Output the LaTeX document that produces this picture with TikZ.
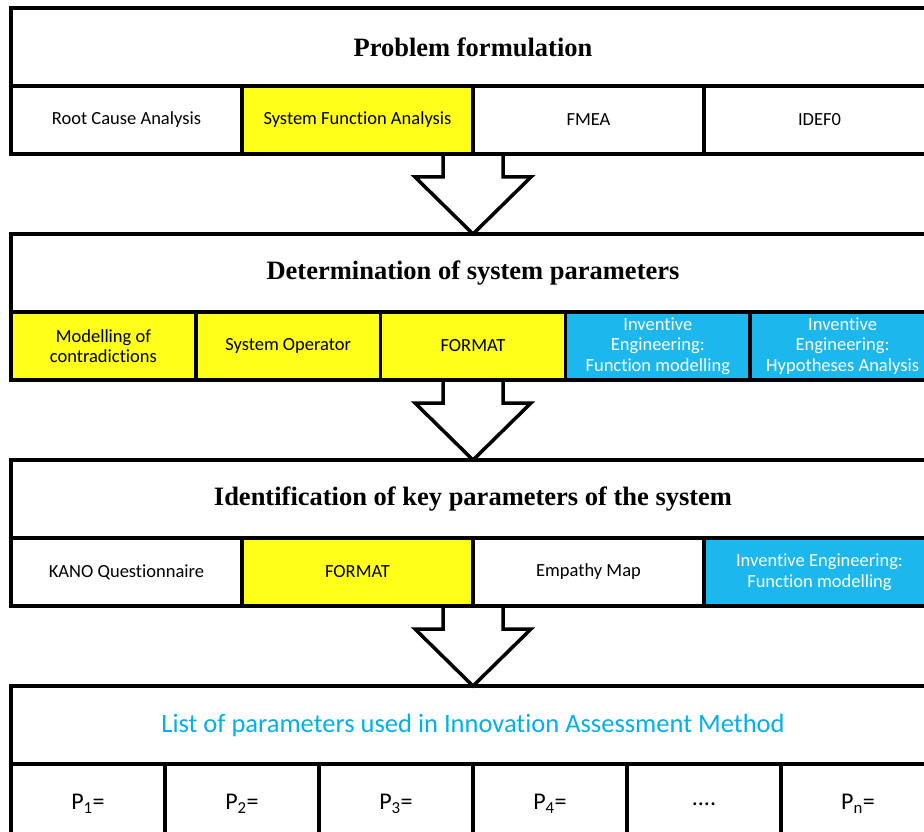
\documentclass[tikz,border=0pt]{standalone}
\usepackage{fontspec}
\setmainfont{Liberation Serif}
\newfontfamily\calibri[Ligatures=NoCommon]{Carlito}
\usetikzlibrary{chains,positioning,backgrounds}
\definecolor{markyellow}{RGB}{255,255,26}
\definecolor{inventblue}{RGB}{28,183,236}
\definecolor{listblue}{RGB}{0,176,240}
\tikzset{
  x=1pt, y=1pt,
  node distance=0mm,
  every node/.style={outer sep=0mm,inner sep=0mm}
}
\tikzset{stage/.style={
    draw,
    line width=3.5pt,
    minimum width=924pt,
    minimum height=78pt,
    font=\bfseries\fontsize{26.5}{30}\selectfont
  }}
\tikzset{tool/.style={
    draw,
    line width=3.5pt,
    minimum width=#1,
    minimum height=68pt,
    align=center,
    font=\calibri\fontsize{18.5}{20.5}\selectfont
  },
  tool/.default=231pt}
\tikzset{hl/.style={fill=markyellow}}
\tikzset{ie/.style={fill=inventblue,text=white}}
\tikzset{param/.style={tool=154pt,minimum height=80pt,font=\calibri\fontsize{24}{28}\selectfont}}
\tikzset{blockarrow/.style={draw,line width=3.5pt,fill=white,line join=miter}}
\tikzset{stack/.style={below=80pt of #1.south west,anchor=north west}}
\tikzset{firstcell/.style={below=0pt of #1.south west,anchor=north west}}

\begin{document}
\begin{tikzpicture}
  \useasboundingbox (0,0) rectangle (924,-832);

  % problem formulation
  \node (pf) [stage,anchor=north west] at (11,-8) {Problem formulation};
  \begin{scope}[start chain=r1 going right]
    \node (rca)   [tool,on chain=r1,firstcell=pf] {Root Cause Analysis};
    \node (sfa)   [tool,hl,on chain=r1]           {System Function Analysis};
    \node (fmea)  [tool,on chain=r1]              {FMEA};
    \node (idef)  [tool,on chain=r1]              {IDEF0};
  \end{scope}

  % system parameters
  \node (dsp) [stage,stack=rca] {Determination of system parameters};
  \begin{scope}[start chain=r2 going right]
    \node (moc)   [tool=184.8pt,hl,on chain=r2,firstcell=dsp] {Modelling of\\contradictions};
    \node (sysop) [tool=184.8pt,hl,on chain=r2] {System Operator};
    \node (fmt)   [tool=184.8pt,hl,on chain=r2] {FORMAT};
    \node (iefm)  [tool=184.8pt,ie,on chain=r2] {Inventive\\Engineering:\\Function modelling};
    \node (ieha)  [tool=184.8pt,ie,on chain=r2] {Inventive\\Engineering:\\Hypotheses Analysis};
  \end{scope}

  % key parameters
  \node (ikp) [stage,stack=moc] {Identification of key parameters of the system};
  \begin{scope}[start chain=r3 going right]
    \node (kano)  [tool,on chain=r3,firstcell=ikp] {KANO Questionnaire};
    \node (fmt2)  [tool,hl,on chain=r3]            {FORMAT};
    \node (emp)   [tool,on chain=r3]               {Empathy Map};
    \node (iefm2) [tool,ie,on chain=r3]            {Inventive Engineering:\\Function modelling};
  \end{scope}

  % parameter list
  \node (lst) [stage,stack=kano,font=\calibri\fontsize{26.5}{30}\selectfont,text=listblue]
    {List of parameters used in Innovation Assessment Method};
  \begin{scope}[start chain=r4 going right]
    \node (p1) [param,on chain=r4,firstcell=lst] {P\textsubscript{1}=};
    \node (p2) [param,on chain=r4] {P\textsubscript{2}=};
    \node (p3) [param,on chain=r4] {P\textsubscript{3}=};
    \node (p4) [param,on chain=r4] {P\textsubscript{4}=};
    \node (pd) [param,on chain=r4] {....};
    \node (pn) [param,on chain=r4] {P\textsubscript{n}=};
  \end{scope}

  \begin{scope}[on background layer]
    \foreach \from/\to in {rca/dsp,moc/ikp,kano/lst}
      \draw [blockarrow] ([xshift=-30pt]\to.north|-\from.south) -- ++(0,-23) -- ++(-28,0)
        -- (\to.north) -- ++(58,57) -- ++(-28,0) -- ++(0,23);
  \end{scope}
\end{tikzpicture}
\end{document}
